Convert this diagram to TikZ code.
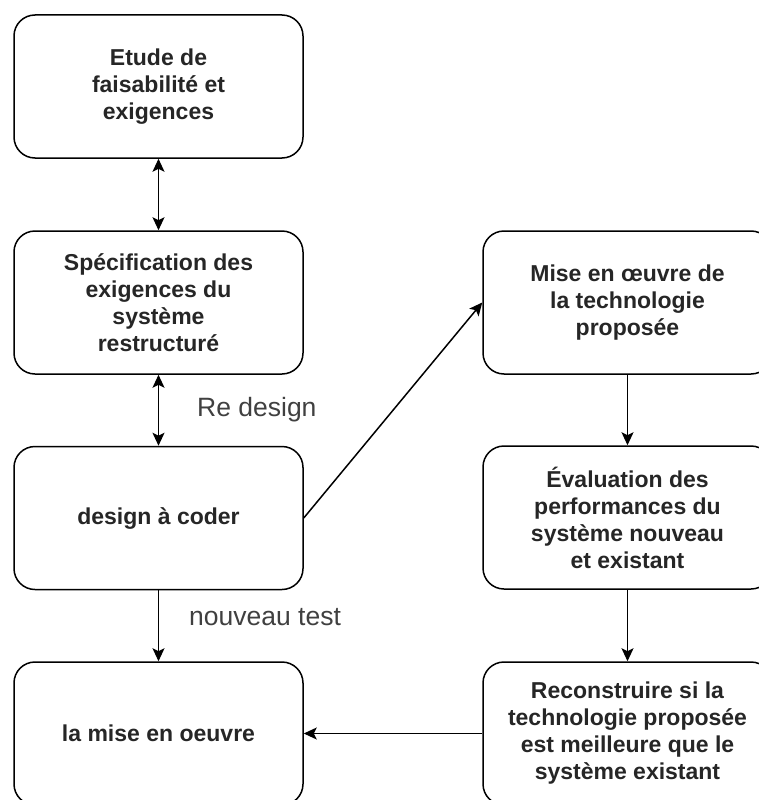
\documentclass[tikz,border=0pt]{standalone}
\usepackage{fontspec}
\setmainfont{Liberation Sans}
\usetikzlibrary{arrows.meta}
\begin{document}
\begin{tikzpicture}[x=1pt,y=-1pt,
  box/.style={draw=black,line width=1.5pt,rounded corners=21pt,minimum width=289pt,minimum height=143pt,
    align=center,inner sep=0pt,font=\fontsize{23}{27}\selectfont\bfseries,text=black!85},
  tip/.tip={Stealth[length=13pt,width=12pt,inset=3pt]},
  conn/.style={line width=1.5pt,-tip},
  bconn/.style={line width=1.5pt,tip-tip},
  lbl/.style={font=\fontsize{26.5}{30}\selectfont,text=black!75,inner sep=0pt}]
\useasboundingbox (0,0) rectangle (759,800);
\clip (0,0) rectangle (759,800);
\fill[white] (0,0) rectangle (759,800);
\node[box] (b1) at (158.5,86.5) {Etude de\\faisabilité et\\exigences};
\node[box] (b2) at (158.5,302.5) {Spécification des\\exigences du\\système\\restructuré};
\node[box] (b3) at (158.5,518) {design à coder};
\node[box] (b4) at (158.5,733.5) {la mise en oeuvre};
\node[box] (r1) at (627.5,302.5) {Mise en œuvre de\\la technologie\\proposée};
\node[box] (r2) at (627.5,517.5) {Évaluation des\\performances du\\système nouveau\\et existant};
\node[box] (r3) at (627.5,733.5) {Reconstruire si la\\technologie proposée\\est meilleure que le\\système existant};
\draw[bconn] (b1) -- (b2);
\draw[bconn] (b2) -- (b3);
\draw[conn] (b3) -- (b4);
\draw[conn] (b3.east) -- (r1.west);
\draw[conn] (r1) -- (r2);
\draw[conn] (r2) -- (r3);
\draw[conn] (r3.west) -- (b4.east);
\node[lbl,anchor=west] (l1) at (197,410) {Re design};
\node[lbl,anchor=west] (l2) at (189,617) {nouveau test};
\end{tikzpicture}
\end{document}
